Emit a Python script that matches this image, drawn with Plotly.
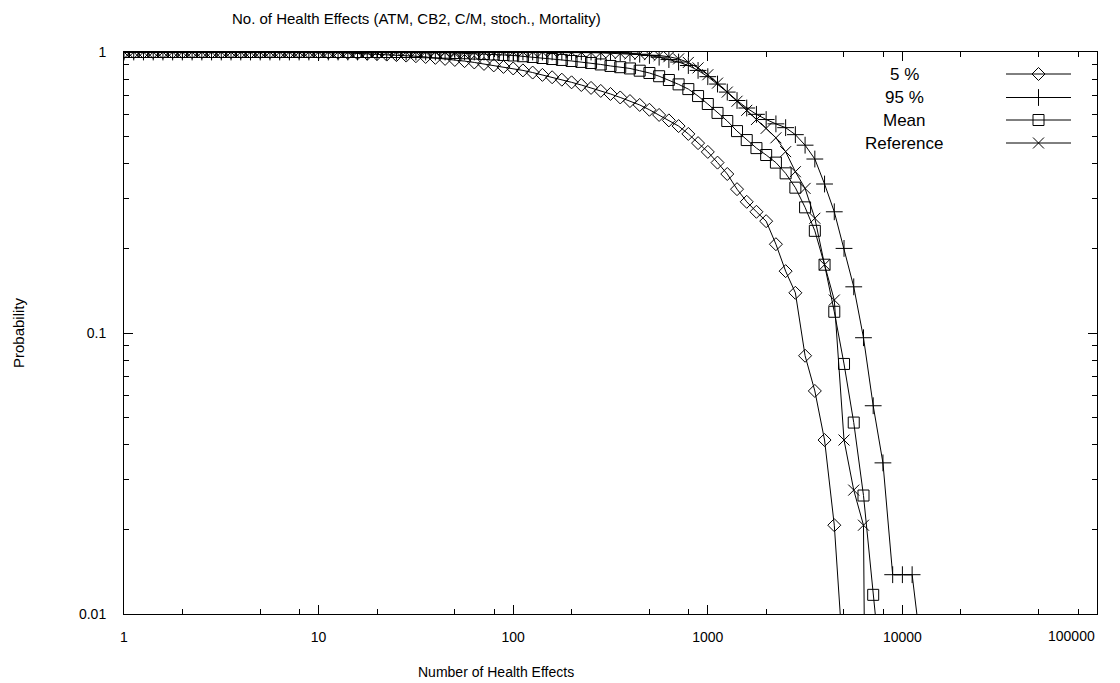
import plotly.graph_objects as go

x_values = [
    1.0, 1.122, 1.259, 1.413, 1.585, 1.778, 1.995, 2.239, 2.512, 2.818,
    3.162, 3.548, 3.981, 4.467, 5.012, 5.623, 6.310, 7.079, 7.943, 8.913,
    10.0, 11.22, 12.59, 14.13, 15.85, 17.78, 19.95, 22.39, 25.12, 28.18,
    31.62, 35.48, 39.81, 44.67, 50.12, 56.23, 63.10, 70.79, 79.43, 89.13,
    100.0, 112.2, 125.9, 141.3, 158.5, 177.8, 199.5, 223.9, 251.2, 281.8,
    316.2, 354.8, 398.1, 446.7, 501.2, 562.3, 631.0, 707.9, 794.3, 891.3,
    1000.0, 1122.0, 1259.0, 1413.0, 1585.0, 1778.0, 1995.0, 2239.0, 2512.0, 2818.0,
    3162.0, 3548.0, 3981.0, 4467.0, 5012.0, 5623.0, 6310.0, 7079.0, 7943.0, 8913.0,
    10000.0, 11220.0, 12590.0, 14130.0,
]

p05 = [
    1.0, 1.0, 1.0, 1.0, 1.0, 1.0, 1.0, 1.0, 1.0, 1.0,
    1.0, 1.0, 1.0, 1.0, 1.0, 1.0, 1.0, 1.0, 1.0, 1.0,
    0.998, 0.996, 0.994, 0.992, 0.989, 0.986, 0.983, 0.979, 0.975, 0.971,
    0.966, 0.960, 0.953, 0.945, 0.937, 0.928, 0.918, 0.907, 0.896, 0.885,
    0.874, 0.860, 0.845, 0.829, 0.813, 0.797, 0.780, 0.763, 0.745, 0.727,
    0.709, 0.689, 0.669, 0.648, 0.623, 0.597, 0.571, 0.545, 0.511, 0.474,
    0.441, 0.404, 0.368, 0.325, 0.293, 0.270, 0.250, 0.207, 0.166, 0.139,
    0.083, 0.0622, 0.0416, 0.0207, 0.0063,
]

p95 = [
    1.0, 1.0, 1.0, 1.0, 1.0, 1.0, 1.0, 1.0, 1.0, 1.0,
    1.0, 1.0, 1.0, 1.0, 1.0, 1.0, 1.0, 1.0, 1.0, 1.0,
    1.0, 1.0, 1.0, 1.0, 1.0, 1.0, 1.0, 1.0, 1.0, 1.0,
    1.0, 1.0, 1.0, 1.0, 1.0, 1.0, 1.0, 1.0, 1.0, 1.0,
    1.0, 1.0, 1.0, 1.0, 1.0, 1.0, 1.0, 1.0, 1.0, 1.0,
    1.0, 0.995, 0.990, 0.982, 0.972, 0.958, 0.940, 0.921, 0.895, 0.860,
    0.817, 0.769, 0.720, 0.672, 0.632, 0.600, 0.575, 0.555, 0.538, 0.508,
    0.466, 0.416, 0.339, 0.270, 0.200, 0.146, 0.0962, 0.0551, 0.0345, 0.0138,
    0.0138, 0.0138, 0.0071,
]

mean = [
    1.0, 1.0, 1.0, 1.0, 1.0, 1.0, 1.0, 1.0, 1.0, 1.0,
    1.0, 1.0, 1.0, 1.0, 1.0, 1.0, 1.0, 1.0, 1.0, 1.0,
    1.0, 1.0, 1.0, 1.0, 1.0, 1.0, 1.0, 1.0, 1.0, 1.0,
    1.0, 0.998, 0.996, 0.994, 0.992, 0.990, 0.987, 0.984, 0.980, 0.976,
    0.972, 0.966, 0.960, 0.952, 0.944, 0.937, 0.929, 0.922, 0.914, 0.903,
    0.892, 0.883, 0.874, 0.858, 0.842, 0.820, 0.795, 0.767, 0.738, 0.697,
    0.653, 0.607, 0.568, 0.523, 0.486, 0.455, 0.430, 0.404, 0.370, 0.329,
    0.280, 0.231, 0.175, 0.119, 0.0776, 0.048, 0.0264, 0.0117, 0.0053,
]

reference = [
    1.0, 1.0, 1.0, 1.0, 1.0, 1.0, 1.0, 1.0, 1.0, 1.0,
    1.0, 1.0, 1.0, 1.0, 1.0, 1.0, 1.0, 1.0, 1.0, 1.0,
    1.0, 1.0, 1.0, 1.0, 1.0, 1.0, 1.0, 1.0, 1.0, 1.0,
    1.0, 1.0, 1.0, 1.0, 1.0, 1.0, 1.0, 1.0, 1.0, 1.0,
    1.0, 1.0, 1.0, 1.0, 1.0, 1.0, 0.998, 0.997, 0.995, 0.993,
    0.990, 0.988, 0.985, 0.982, 0.978, 0.972, 0.962, 0.945, 0.918, 0.878,
    0.830, 0.775, 0.720, 0.668, 0.620, 0.575, 0.535, 0.495, 0.442, 0.375,
    0.327, 0.256, 0.175, 0.131, 0.0416, 0.0276, 0.0207, 0.000001,
]

series_names = ["5 %", "95 %", "Mean", "Reference"]
series_values = [p05, p95, mean, reference]
symbols = ["diamond-open", "cross-thin-open", "square-open", "x-thin-open"]
sizes = [10, 12, 11, 11]

x_major = [1, 10, 100, 1000, 10000, 100000]
x_major_text = ["1", "10", "100", "1000", "10000", ""]
x_last_label = "100000"
x_minor = [m * d for d in [1, 10, 100, 1000, 10000] for m in (2, 5, 8)]
y_major = [1, 0.1, 0.01]
y_major_text = ["1", "0.1", "0.01"]
y_minor = [m * d for d in [0.01, 0.1] for m in range(2, 10)]

FONT = "Liberation Sans, Arial, sans-serif"
L, R, T, B = 124, 23, 52, 69
PW = 1120 - L - R
PH = 683 - T - B


def px_x(p):
    return (p - L) / PW


def px_y(p):
    return 1 - (p - T) / PH


fig = go.Figure()
for name, vals, sym, sz in zip(series_names, series_values, symbols, sizes):
    fig.add_trace(go.Scatter(
        x=x_values[:len(vals)], y=vals, name=name, mode="lines+markers",
        line=dict(color="black", width=1),
        marker=dict(symbol=sym, size=sz, color="black", line=dict(color="black", width=1)),
        showlegend=False, cliponaxis=True,
    ))

# manual legend (text left of the key, as in the reference)
leg_rows_px = [74, 97.5, 120, 143]
for name, sym, sz, ry in zip(series_names, symbols, sizes, leg_rows_px):
    yy = px_y(ry)
    fig.add_shape(type="line", xref="paper", yref="paper", x0=px_x(1006), x1=px_x(1071),
                  y0=yy, y1=yy, line=dict(color="black", width=1))
    fig.add_trace(go.Scatter(
        x=[px_x(1038.5)], y=[yy], xaxis="x2", yaxis="y2", mode="markers",
        marker=dict(symbol=sym, size=sz, color="black", line=dict(color="black", width=1)),
        showlegend=False, hoverinfo="skip",
    ))
    fig.add_annotation(x=px_x(904), y=yy, xref="paper", yref="paper", text=name,
                       showarrow=False, xanchor="center", yanchor="middle",
                       font=dict(family=FONT, size=17, color="black"))

fig.add_annotation(x=px_x(416), y=px_y(18), xref="paper", yref="paper",
                   text="No. of Health Effects (ATM, CB2, C/M, stoch., Mortality)",
                   showarrow=False, xanchor="center", yanchor="middle",
                   font=dict(family=FONT, size=15, color="black"))
fig.add_annotation(x=px_x(496), y=px_y(672), xref="paper", yref="paper",
                   text="Number of Health Effects", showarrow=False,
                   xanchor="center", yanchor="middle",
                   font=dict(family=FONT, size=14, color="black"))
fig.add_annotation(x=px_x(18), y=px_y(333), xref="paper", yref="paper",
                   text="Probability", showarrow=False, textangle=-90,
                   xanchor="center", yanchor="middle",
                   font=dict(family=FONT, size=15, color="black"))
# last x tick label sits flush with the right end of the axis
fig.add_annotation(x=1.0, y=px_y(636), xref="paper", yref="paper",
                   text=x_last_label, showarrow=False, xanchor="right", yanchor="middle",
                   font=dict(family=FONT, size=14, color="black"))

fig.update_layout(
    width=1120, height=683,
    margin=dict(l=L, r=R, t=T, b=B),
    paper_bgcolor="white", plot_bgcolor="white",
    font=dict(family=FONT, size=14, color="black"),
    xaxis=dict(
        type="log", range=[0, 5], showgrid=False, zeroline=False, automargin=False,
        showline=True, linecolor="black", linewidth=1, mirror="allticks",
        ticks="inside", ticklen=9, tickwidth=1, tickcolor="black",
        tickmode="array", tickvals=x_major, ticktext=x_major_text,
        ticklabelstandoff=10,
        minor=dict(tickmode="array", tickvals=x_minor, ticks="inside",
                   ticklen=5, tickwidth=1, tickcolor="black", showgrid=False),
    ),
    yaxis=dict(
        type="log", range=[-2, 0], showgrid=False, zeroline=False, automargin=False,
        showline=True, linecolor="black", linewidth=1, mirror="allticks",
        ticks="inside", ticklen=9, tickwidth=1, tickcolor="black",
        tickmode="array", tickvals=y_major, ticktext=y_major_text,
        ticklabelstandoff=14,
        minor=dict(tickmode="array", tickvals=y_minor, ticks="inside",
                   ticklen=5, tickwidth=1, tickcolor="black", showgrid=False),
    ),
    xaxis2=dict(overlaying="x", range=[0, 1], visible=False, fixedrange=True),
    yaxis2=dict(overlaying="y", range=[0, 1], visible=False, fixedrange=True),
)

fig.write_html("out.html")
